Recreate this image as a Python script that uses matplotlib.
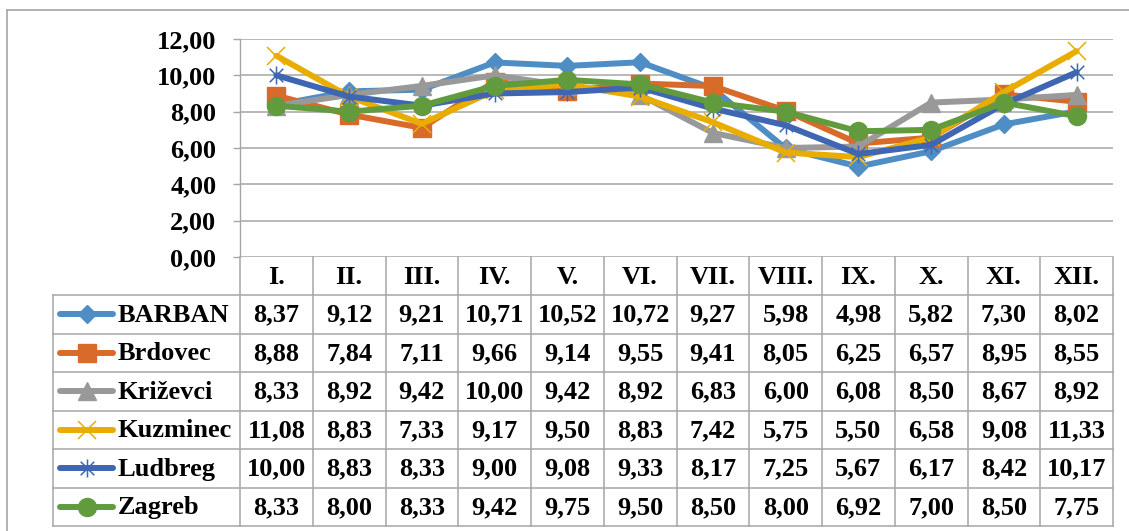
import matplotlib
matplotlib.use("Agg")
import matplotlib.pyplot as plt
from matplotlib.path import Path
from matplotlib.lines import Line2D

months = ["I.", "II.", "III.", "IV.", "V.", "VI.", "VII.", "VIII.", "IX.", "X.", "XI.", "XII."]
names = ["BARBAN", "Brdovec", "Križevci", "Kuzminec", "Ludbreg", "Zagreb"]
barban = [8.37, 9.12, 9.21, 10.71, 10.52, 10.72, 9.27, 5.98, 4.98, 5.82, 7.30, 8.02]
brdovec = [8.88, 7.84, 7.11, 9.66, 9.14, 9.55, 9.41, 8.05, 6.25, 6.57, 8.95, 8.55]
krizevci = [8.33, 8.92, 9.42, 10.00, 9.42, 8.92, 6.83, 6.00, 6.08, 8.50, 8.67, 8.92]
kuzminec = [11.08, 8.83, 7.33, 9.17, 9.50, 8.83, 7.42, 5.75, 5.50, 6.58, 9.08, 11.33]
ludbreg = [10.00, 8.83, 8.33, 9.00, 9.08, 9.33, 8.17, 7.25, 5.67, 6.17, 8.42, 10.17]
zagreb = [8.33, 8.00, 8.33, 9.42, 9.75, 9.50, 8.50, 8.00, 6.92, 7.00, 8.50, 7.75]
yticks = [0, 2, 4, 6, 8, 10, 12]

series = [barban, brdovec, krizevci, kuzminec, ludbreg, zagreb]
colors = ['#4F8DC5', '#D86B2A', '#999999', '#E8AD00', '#3E66B2', '#629B3E']

star = Path([(0, -1), (0, 1), (-0.75, -0.75), (0.75, 0.75), (-0.75, 0.75), (0.75, -0.75)],
            [Path.MOVETO, Path.LINETO, Path.MOVETO, Path.LINETO, Path.MOVETO, Path.LINETO])
mstyles = [
    dict(marker='D', ms=8.8, mfc=colors[0], mec=colors[0], mew=1),
    dict(marker='s', ms=12.5, mfc=colors[1], mec=colors[1], mew=1),
    dict(marker='^', ms=12.5, mfc=colors[2], mec=colors[2], mew=1),
    dict(marker='x', ms=13, mfc='none', mec=colors[3], mew=1.1),
    dict(marker=star, ms=13, mfc='none', mec=colors[4], mew=1.1),
    dict(marker='o', ms=13, mfc=colors[5], mec=colors[5], mew=1),
]

W, H = 1129, 531
DPI = 100
fig = plt.figure(figsize=(W / DPI, H / DPI), dpi=DPI)
FONT = 'Liberation Serif'
FS = 19
grid_c = '#A6A6A6'

# plot area (pixel geometry)
L, R, T, B = 240, 1113, 39, 257
ax = fig.add_axes([L / W, 1 - B / H, (R - L) / W, (B - T) / H])
ax.set_xlim(-0.5, len(months) - 0.5)
ax.set_ylim(0, 12)
ax.set_yticks(yticks)
ax.set_yticklabels([f"{v:.2f}".replace('.', ',') for v in yticks],
                   fontfamily=FONT, fontweight='bold', fontsize=FS)
ax.set_xticks([])
ax.tick_params(axis='y', length=5, width=1, color=grid_c, pad=12)
for s in ['top', 'right', 'bottom']:
    ax.spines[s].set_visible(False)
ax.spines['left'].set_color(grid_c)
ax.spines['left'].set_linewidth(1)
ax.grid(axis='y', color=grid_c, lw=1.1)
ax.set_axisbelow(True)
ax.patch.set_alpha(0)

x = list(range(len(months)))
for i, (vals, c) in enumerate(zip(series, colors)):
    ax.plot(x, vals, color=c, lw=4.3, solid_capstyle='round', solid_joinstyle='round',
            clip_on=False, zorder=3 + i, **mstyles[i])

# overlay for table
ov = fig.add_axes([0, 0, 1, 1], zorder=-1)
ov.set_xlim(0, W)
ov.set_ylim(H, 0)
ov.axis('off')

# outer border
ov.plot([7, W + 5], [10, 10], color='#A6A6A6', lw=1.2)
ov.plot([7, 7], [10, H + 5], color='#A6A6A6', lw=1.2)

ncol = len(months)
cw = (R - L) / ncol
hdr_top, hdr_bot = B, 295
rh = (526 - hdr_bot) / len(names)
leg_left = 53
tc = '#A6A6A6'
tlw = 1.1

# vertical lines
for k in range(ncol + 1):
    xx = L + k * cw
    ov.plot([xx, xx], [hdr_top, hdr_bot + rh * len(names)], color=tc, lw=tlw)
ov.plot([leg_left, leg_left], [hdr_bot, hdr_bot + rh * len(names)], color=tc, lw=tlw)
# horizontal lines
for r in range(len(names) + 1):
    yy = hdr_bot + r * rh
    ov.plot([leg_left, R], [yy, yy], color=tc, lw=tlw)

# header labels
for k, m in enumerate(months):
    ov.text(L + (k + 0.5) * cw, (hdr_top + hdr_bot) / 2 + 1, m, ha='center', va='center',
            fontfamily=FONT, fontweight='bold', fontsize=FS)

# rows
for r, (nm, vals, c) in enumerate(zip(names, series, colors)):
    yc = hdr_bot + (r + 0.5) * rh
    ov.add_line(Line2D([60, 113], [yc, yc], color=c, lw=4.3, solid_capstyle='round', zorder=3))
    ov.add_line(Line2D([87], [yc], color=c, lw=0, zorder=4, **mstyles[r]))
    ov.text(118, yc + 1, nm, ha='left', va='center', fontfamily=FONT, fontweight='bold', fontsize=FS)
    for k, v in enumerate(vals):
        ov.text(L + (k + 0.5) * cw, yc + 1, f"{v:.2f}".replace('.', ','), ha='center', va='center',
                fontfamily=FONT, fontweight='bold', fontsize=FS)

fig.savefig("out.png", dpi=DPI)
